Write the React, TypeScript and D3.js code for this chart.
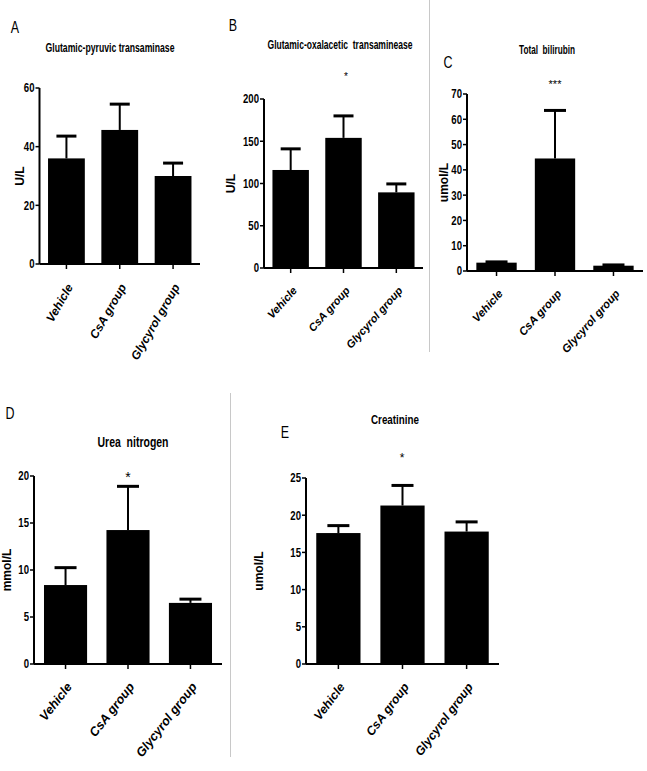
import * as d3 from "d3";

const groups = ["Vehicle", "CsA group", "Glycyrol group"];

// means and SEM tops
const gptMean = [36, 45.7, 30];
const gptErr = [43.6, 54.5, 34.4];
const gotMean = [116, 154, 89.5];
const gotErr = [141, 180, 99.5];
const tbilMean = [3.3, 44.5, 2.1];
const tbilErr = [3.6, 63.5, 2.4];
const bunMean = [8.4, 14.25, 6.5];
const bunErr = [10.25, 18.9, 6.9];
const creaMean = [17.6, 21.3, 17.8];
const creaErr = [18.6, 24.0, 19.1];

const panels = [
  { letter: "A", title: "Glutamic-pyruvic transaminase", unit: "U/L", mean: gptMean, err: gptErr, max: 60, step: 20, star: "",
    x: [39.5, 200], y: [264, 88], letterPos: [15, 33], titlePos: [110, 52], titleSize: 12.5, titleW: 129,
    unitX: 21, starPos: [0, 0], starSize: 11, capW: 20, rot: 60, lab: 12 },
  { letter: "B", title: "Glutamic-oxalacetic  transaminease", unit: "U/L", mean: gotMean, err: gotErr, max: 200, step: 50, star: "*",
    x: [264, 423], y: [268, 99], letterPos: [233, 31], titlePos: [340, 49], titleSize: 12.5, titleW: 145,
    unitX: 232, starPos: [346, 80], starSize: 10, capW: 20, rot: 48, lab: 11 },
  { letter: "C", title: "Total  bilirubin", unit: "umol/L", mean: tbilMean, err: tbilErr, max: 70, step: 10, star: "***",
    x: [467, 643], y: [271, 94], letterPos: [448, 68], titlePos: [547, 54], titleSize: 12, titleW: 56,
    unitX: 445, starPos: [555, 88], starSize: 11, capW: 22, rot: 48, lab: 11.3 },
  { letter: "D", title: "Urea  nitrogen", unit: "mmol/L", mean: bunMean, err: bunErr, max: 20, step: 5, star: "*",
    x: [34, 222], y: [664, 476], letterPos: [10, 419], titlePos: [133, 447], titleSize: 14, titleW: 71,
    unitX: 8, starPos: [128, 482], starSize: 14, capW: 22, rot: 52, lab: 12.7 },
  { letter: "E", title: "Creatinine", unit: "umol/L", mean: creaMean, err: creaErr, max: 25, step: 5, star: "*",
    x: [306, 499], y: [664, 478], letterPos: [285, 438], titlePos: [395, 424], titleSize: 13, titleW: 48,
    unitX: 260, starPos: [402, 462], starSize: 12, capW: 22, rot: 53, lab: 12.3 },
];

const sans = "'Liberation Sans', Arial, sans-serif";

// condensed look: there is no narrow face installed, so squeeze horizontally
const NText = ({ x, y, sx = 0.78, children, ...rest }: any) => (
  <text transform={`translate(${x},${y}) scale(${sx},1)`} fontFamily={sans} {...rest}>{children}</text>
);

const Panel = ({ p }: { p: any }) => {
  const xs = d3.scaleBand().domain(groups).range(p.x).paddingInner(0.31).paddingOuter(0.16);
  const ys = d3.scaleLinear().domain([0, p.max]).range(p.y);
  const ticks = d3.range(0, p.max + 0.001, p.step);
  const bw = xs.bandwidth();
  const base = ys(0);
  return (
    <g>
      <NText x={p.letterPos[0]} y={p.letterPos[1]} fontSize={16} textAnchor="middle">{p.letter}</NText>
      <text x={p.titlePos[0] - p.titleW / 2} y={p.titlePos[1]} fontFamily={sans} fontSize={p.titleSize} fontWeight="bold"
        textLength={p.titleW} lengthAdjust="spacingAndGlyphs" style={{ whiteSpace: "pre" }}>{p.title}</text>
      {p.star && (
        <text x={p.starPos[0]} y={p.starPos[1]} fontFamily={sans} fontSize={p.starSize} textAnchor="middle">{p.star}</text>
      )}
      <text transform={`translate(${p.unitX},${(p.y[0] + p.y[1]) / 2}) rotate(-90)`} fontFamily={sans}
        fontSize={12} fontWeight="bold" textAnchor="middle" dominantBaseline="middle">{p.unit}</text>
      {groups.map((g, i) => {
        const x0 = xs(g)!;
        const cx = x0 + bw / 2;
        return (
          <g key={g}>
            <line x1={cx} x2={cx} y1={ys(p.err[i])} y2={ys(p.mean[i])} stroke="#000" strokeWidth={2} />
            <line x1={cx - p.capW / 2} x2={cx + p.capW / 2} y1={ys(p.err[i])} y2={ys(p.err[i])} stroke="#000" strokeWidth={3} />
            <rect x={x0} y={ys(p.mean[i])} width={bw} height={base - ys(p.mean[i])} fill="#000" />
            <line x1={cx} x2={cx} y1={base} y2={base + 5} stroke="#000" strokeWidth={1.5} />
            <text transform={`translate(${cx + 7},${base + 23}) rotate(${-p.rot})`} fontFamily={sans} fontSize={p.lab}
              fontWeight="bold" fontStyle="italic" textAnchor="end">{g}</text>
          </g>
        );
      })}
      <line x1={p.x[0]} x2={p.x[1]} y1={base} y2={base} stroke="#000" strokeWidth={2} />
      <line x1={p.x[0]} x2={p.x[0]} y1={base} y2={ys(p.max)} stroke="#000" strokeWidth={2} />
      {ticks.map((t: number) => (
        <g key={t}>
          <line x1={p.x[0] - 4} x2={p.x[0]} y1={ys(t)} y2={ys(t)} stroke="#000" strokeWidth={1.5} />
          <NText x={p.x[0] - 5} y={ys(t)} sx={0.8} fontSize={12} fontWeight="bold"
            textAnchor="end" dominantBaseline="central">{t}</NText>
        </g>
      ))}
    </g>
  );
};

export default function App() {
  return (
    <svg width={647} height={771} style={{ position: "absolute", left: 0, top: 0, background: "#fff" }}>
      <rect width={647} height={771} fill="#fff" />
      <line x1={429.5} x2={429.5} y1={0} y2={352} stroke="#c8c8c8" strokeWidth={1} />
      <line x1={230.5} x2={230.5} y1={393} y2={757} stroke="#c8c8c8" strokeWidth={1} />
      {panels.map((p) => <Panel key={p.letter} p={p} />)}
    </svg>
  );
}
